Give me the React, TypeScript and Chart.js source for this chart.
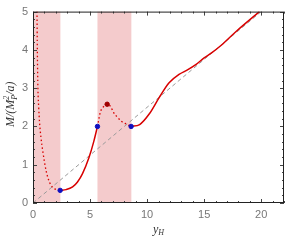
import React, { useEffect, useRef } from "react";
import { Chart, registerables } from "chart.js";

Chart.register(...registerables);

// Data
const branchA_x = [0.35, 0.38, 0.43, 0.5, 0.57, 0.7, 0.86, 1.0, 1.15, 1.35, 1.58, 1.9, 2.38];
const branchA_y = [5.0, 4.0, 3.0, 2.5, 2.12, 1.7, 1.35, 1.08, 0.84, 0.62, 0.46, 0.37, 0.33];
const branchB_x = [2.38, 2.9, 3.47, 3.9, 4.33, 4.9, 5.33, 5.65];
const branchB_y = [0.33, 0.35, 0.42, 0.55, 0.76, 1.18, 1.61, 2.0];
const branchC_x = [5.65, 5.9, 6.2, 6.5, 6.8, 7.05, 7.4, 7.77, 8.2, 8.6];
const branchC_y = [2.0, 2.37, 2.52, 2.58, 2.52, 2.37, 2.24, 2.13, 2.06, 2.0];
const branchD_x = [8.6, 9.35, 10.2, 11.07, 11.93, 12.8, 13.5, 14.3, 15.0, 15.65, 16.5, 17.8, 19.85];
const branchD_y = [2.0, 2.05, 2.33, 2.76, 3.14, 3.36, 3.47, 3.62, 3.79, 3.92, 4.12, 4.48, 5.0];
const refLine_x = [0, 20];
const refLine_y = [0, 5];
const bluePts_x = [2.38, 5.65, 8.6];
const bluePts_y = [0.33, 2.0, 2.0];
const peakPt_x = [6.5];
const peakPt_y = [2.58];
const bandStart = [0, 5.65];
const bandEnd = [2.4, 8.62];

const zip = (xs: number[], ys: number[]) => xs.map((x, i) => ({ x, y: ys[i] }));

const RED = "#d80000";

const bandsPlugin = {
  id: "bands",
  beforeDatasetsDraw(chart: any) {
    const { ctx, chartArea, scales } = chart;
    ctx.save();
    ctx.fillStyle = "#f4cbcc";
    for (let i = 0; i < bandStart.length; i++) {
      const x0 = scales.x.getPixelForValue(bandStart[i]);
      const x1 = scales.x.getPixelForValue(bandEnd[i]);
      ctx.fillRect(x0, chartArea.top, x1 - x0, chartArea.bottom - chartArea.top);
    }
    ctx.restore();
  },
};

const framePlugin = {
  id: "frame",
  afterDraw(chart: any) {
    const { ctx, chartArea, scales } = chart;
    const { left, right, top, bottom } = chartArea;
    ctx.save();
    ctx.strokeStyle = "#444";
    ctx.lineWidth = 1;
    ctx.beginPath();
    for (let v = 0; v <= 22.001; v += 1) {
      const px = Math.round(scales.x.getPixelForValue(v)) + 0.5;
      const len = Math.abs(v % 5) < 1e-6 ? 4 : 2;
      ctx.moveTo(px, bottom);
      ctx.lineTo(px, bottom - len);
      ctx.moveTo(px, top);
      ctx.lineTo(px, top + len);
    }
    for (let k = 0; k <= 25; k++) {
      const v = k * 0.2;
      const py = Math.round(scales.y.getPixelForValue(v)) + 0.5;
      const len = k % 5 === 0 ? 4 : 2;
      ctx.moveTo(left, py);
      ctx.lineTo(left + len, py);
      ctx.moveTo(right, py);
      ctx.lineTo(right - len, py);
    }
    ctx.stroke();
    ctx.strokeStyle = "#222";
    ctx.strokeRect(left + 0.5, top + 0.5, right - left - 1, bottom - top - 1);

    // axis titles
    ctx.fillStyle = "#333";
    ctx.textBaseline = "alphabetic";
    const big = "italic 12px 'Liberation Serif', serif";
    const small = "italic 8px 'Liberation Serif', serif";
    const cx = (left + right) / 2;
    ctx.font = big;
    const w1 = ctx.measureText("y").width;
    ctx.font = small;
    const w2 = ctx.measureText("H").width;
    const sx = cx - (w1 + w2) / 2;
    ctx.font = big;
    ctx.fillText("y", sx, 233);
    ctx.font = small;
    ctx.fillText("H", sx + w1, 235);

    ctx.translate(14, (top + bottom) / 2 - 3);
    ctx.rotate(-Math.PI / 2);
    ctx.font = big;
    const a = "M/(M";
    const b = "/a)";
    const wa = ctx.measureText(a).width;
    const wb = ctx.measureText(b).width;
    ctx.font = small;
    const ws = Math.max(ctx.measureText("P").width, ctx.measureText("2").width);
    let x = -(wa + ws + wb) / 2;
    ctx.font = big;
    ctx.fillText(a, x, 0);
    x += wa;
    ctx.font = small;
    ctx.fillText("P", x, 3);
    ctx.fillText("2", x, -5);
    x += ws;
    ctx.font = big;
    ctx.fillText(b, x, 0);
    ctx.restore();
  },
};

export default function App() {
  const ref = useRef<HTMLCanvasElement>(null);
  useEffect(() => {
    document.body.style.margin = "0";
    const chart = new Chart(ref.current!, {
      type: "scatter",
      data: {
        datasets: [
          {
            type: "line",
            data: zip(refLine_x, refLine_y),
            borderColor: "#9a9a9a",
            borderWidth: 1,
            borderDash: [4, 3],
            pointRadius: 0,
            order: 5,
          },
          {
            type: "line",
            data: zip(branchA_x, branchA_y),
            borderColor: RED,
            borderWidth: 1.3,
            borderDash: [1.5, 2.5],
            pointRadius: 0,
            cubicInterpolationMode: "monotone",
            order: 4,
          },
          {
            type: "line",
            data: zip(branchB_x, branchB_y),
            borderColor: RED,
            borderWidth: 1.5,
            pointRadius: 0,
            cubicInterpolationMode: "monotone",
            order: 4,
          },
          {
            type: "line",
            data: zip(branchC_x, branchC_y),
            borderColor: RED,
            borderWidth: 1.3,
            borderDash: [1.5, 2.5],
            pointRadius: 0,
            cubicInterpolationMode: "monotone",
            order: 4,
          },
          {
            type: "line",
            data: zip(branchD_x, branchD_y),
            borderColor: RED,
            borderWidth: 1.5,
            pointRadius: 0,
            cubicInterpolationMode: "monotone",
            order: 4,
          },
          {
            data: zip(bluePts_x, bluePts_y),
            backgroundColor: "#1010c0",
            borderColor: "#1010c0",
            pointRadius: 2.2,
            order: 1,
          },
          {
            data: zip(peakPt_x, peakPt_y),
            backgroundColor: "#a00000",
            borderColor: "#a00000",
            pointRadius: 2.2,
            order: 1,
          },
        ],
      } as any,
      options: {
        animation: false,
        responsive: false,
        devicePixelRatio: 1,
        plugins: { legend: { display: false }, tooltip: { enabled: false } },
        layout: { padding: { top: 7, right: 1, left: 0, bottom: 0 } },
        scales: {
          x: {
            type: "linear",
            min: 0,
            max: 22,
            grid: { display: false, drawTicks: false },
            border: { display: false },
            ticks: {
              stepSize: 5,
              padding: 5,
              color: "#777",
              font: { family: "'Liberation Sans', sans-serif", size: 11 },
              callback: (v: any) => (v % 5 === 0 ? String(v) : ""),
            },
            afterFit: (s: any) => {
              s.height = 41;
            },
          },
          y: {
            type: "linear",
            min: 0,
            max: 5,
            grid: { display: false, drawTicks: false },
            border: { display: false },
            ticks: {
              stepSize: 1,
              padding: 5,
              color: "#777",
              font: { family: "'Liberation Sans', sans-serif", size: 11 },
            },
            afterFit: (s: any) => {
              s.width = 33;
            },
          },
        },
      } as any,
      plugins: [bandsPlugin, framePlugin],
    });
    return () => chart.destroy();
  }, []);
  return <canvas ref={ref} width={289} height={244} style={{ display: "block" }} />;
}
